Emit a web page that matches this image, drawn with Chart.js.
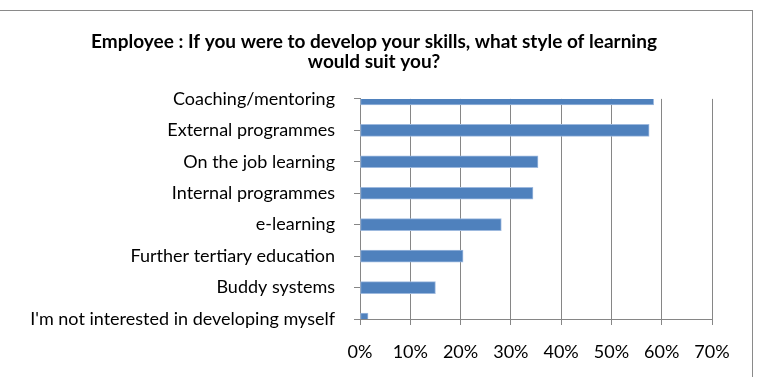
<!DOCTYPE html>
<html>
<head>
<meta charset="utf-8">
<script src="https://cdn.jsdelivr.net/npm/chart.js@4/dist/chart.umd.min.js"></script>
<style>
  html, body { margin: 0; padding: 0; background: #fff; overflow: hidden; }
  #wrap { position: relative; width: 759px; height: 377px; }
  #frame {
    position: absolute; left: -5px; top: 10px; width: 758px; height: 400px;
    border-top: 1px solid #8a8a8a; border-right: 1px solid #8a8a8a;
    box-sizing: border-box;
  }
  canvas { position: absolute; left: 0; top: 0; }
</style>
</head>
<body>
<div id="wrap">
  <div id="frame"></div>
  <canvas id="chart" width="759" height="377"></canvas>
</div>
<script>
// Survey answers, in the order they are listed
const categories = [
  "Coaching/mentoring",
  "External programmes",
  "On the job learning",
  "Internal programmes",
  "e-learning",
  "Further tertiary education",
  "Buddy systems",
  "I'm not interested in developing myself"
];
// Share of employees choosing each style (%)
const shares = [58.4, 57.5, 35.4, 34.4, 28.1, 20.5, 15.0, 1.6];
// Value axis ticks (%)
const xTicks = [0, 10, 20, 30, 40, 50, 60, 70];

const titleLines = [
  "Employee : If you were to develop your skills, what style of learning",
  "would suit you?"
];

const GRID = "#868686";
const FONT = "Lato";

// Centre the title over the whole frame rather than the padded layout box
const centerTitle = {
  id: "centerTitle",
  afterLayout(chart) {
    const t = chart.titleBlock;
    if (t) { t.left += 18; t.right += 18; }
  }
};

new Chart(document.getElementById("chart"), {
  type: "bar",
  data: {
    labels: categories,
    datasets: [{
      data: shares,
      backgroundColor: "#4F81BD",
      borderColor: "#9DB9DE",
      borderWidth: 1,
      borderSkipped: false,
      barThickness: 12,
      clip: 0
    }]
  },
  options: {
    indexAxis: "y",
    responsive: false,
    animation: false,
    devicePixelRatio: 1,
    layout: { padding: { left: 0, right: 47, top: 0, bottom: 0 } },
    plugins: {
      legend: { display: false },
      tooltip: { enabled: false },
      title: {
        display: true,
        text: titleLines,
        color: "#000",
        font: { family: FONT, size: 19, weight: "bold", lineHeight: 1.05 },
        padding: { top: 32, bottom: 27 }
      }
    },
    scales: {
      x: {
        type: "linear",
        min: xTicks[0],
        max: xTicks[xTicks.length - 1],
        afterFit(scale) { scale.height = 58; },
        afterBuildTicks(scale) { scale.ticks = xTicks.map(v => ({ value: v })); },
        ticks: {
          color: "#000",
          font: { family: FONT, size: 18 },
          padding: 16,
          callback: v => v + "%"
        },
        grid: { color: GRID, lineWidth: 1, tickLength: 6, drawTicks: true },
        border: { color: GRID, width: 1 }
      },
      y: {
        type: "category",
        offset: false,
        afterFit(scale) { scale.width = 360; },
        ticks: {
          color: "#000",
          font: { family: FONT, size: 18 },
          padding: 19,
          autoSkip: false
        },
        grid: { offset: false, drawOnChartArea: false, drawTicks: true, tickLength: 6, color: GRID },
        border: { color: GRID, width: 1 }
      }
    }
  },
  plugins: [centerTitle]
});
</script>
</body>
</html>
